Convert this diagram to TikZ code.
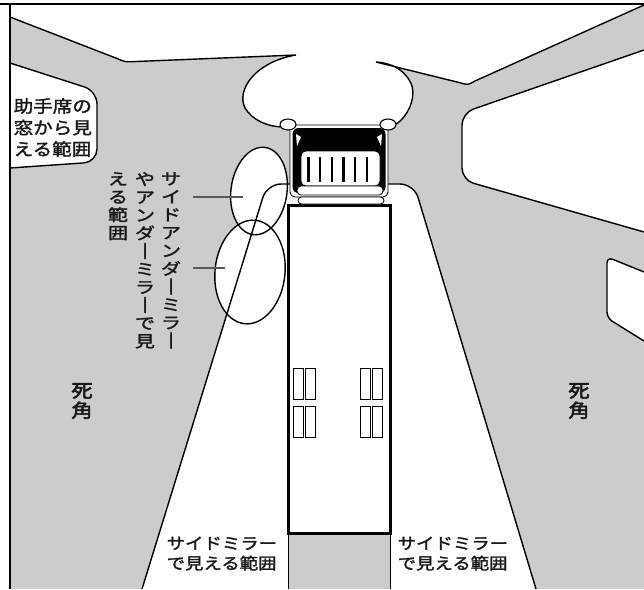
\documentclass[tikz,border=0pt]{standalone}
\usepackage{fontspec}
\usepackage{graphicx}
\newfontfamily\jp[FakeStretch=1.15,FakeBold=1.8]{Noto Sans CJK JP}
\newfontfamily\jptate[FakeStretch=1.25,FakeBold=1.8]{Noto Sans CJK JP}
\newfontfamily\jpbold[FakeStretch=1.15,FakeBold=3]{Noto Sans CJK JP}
\definecolor{deadgray}{RGB}{204,204,204}
% long vowel mark turned upright for vertical columns
\newcommand{\tatebo}{\smash{\rotatebox[origin=c]{-90}{\raisebox{0pt}[0.88em][0.12em]{ー}}}}

\begin{document}
\begin{tikzpicture}[x=1pt, y=-1pt,
    outline/.style={draw=black, line width=1.4pt},
    whitezone/.style={outline, fill=white},
    leader/.style={draw=black!65, line width=1.2pt},
    thinbox/.style={draw=black, line width=0.8pt, fill=white},
    sidetext/.style={inner sep=0pt, text=black!90, align=left, font=\jp\fontsize{16}{20}\selectfont},
    tate/.style={inner sep=0pt, text=black!90, align=center, anchor=north, font=\jptate\fontsize{16}{18}\selectfont},
    dead/.style={inner sep=0pt, text=black!90, align=center, font=\jpbold\fontsize{18.5}{20}\selectfont}]

\useasboundingbox (0,0) rectangle (644,589);

% gray ground (blind areas)
\fill[deadgray] (10,4) rectangle (644,589);

% open space ahead, with the bulge in front of the cab
\filldraw[whitezone] (10,4) -- (10,17) -- (117,58.5) .. controls (125,62) .. (134,61.6) -- (296,55)
  .. controls (255,62) and (236,90) .. (245,108)
  .. controls (252,120) and (268,127) .. (283,127) -- (393,126)
  .. controls (405,120) and (416,102) .. (412,86)
  .. controls (406,70) and (392,63) .. (376,62)
  -- (461,83) .. controls (468,85) .. (475,81) -- (644,5) -- (644,4);

% window views
\filldraw[whitezone, rounded corners=12] (644,50) -- (462,113) -- (462,180) -- (644,232);
\filldraw[whitezone, rounded corners=13] (10,63) -- (97,91) -- (97,162) -- (10,168);
\filldraw[whitezone, rounded corners=6] (644,272) -- (607,257) -- (607,318) -- (644,341);

% under-mirror ellipses
\coordinate (ellA) at (259,191);
\coordinate (ellB) at (250,272);
\fill[white, rotate around={-8:(ellA)}] (ellA) ellipse [x radius=28, y radius=44];
\fill[white, rotate around={-6:(ellB)}] (ellB) ellipse [x radius=35, y radius=52];

% side mirror cone
\filldraw[whitezone, rounded corners=14] (142,589) -- (267,184) -- (414,184) -- (536,589);

\draw[outline, rotate around={-8:(ellA)}] (ellA) ellipse [x radius=28, y radius=44];
\draw[outline, rotate around={-6:(ellB)}] (ellB) ellipse [x radius=35, y radius=52];

% strip behind the body
\filldraw[fill=deadgray, draw=black, line width=0.8pt] (288,589) -- (288,533) -- (390,533) -- (390,589);

% truck body
\filldraw[fill=white, draw=black, line width=3pt] (288,205) rectangle (390,533);
\foreach \x in {293,305.5,360,372.5}
  \foreach \y in {368,406}
    \draw[thinbox] (\x,\y) rectangle ++(10,31);

% cab
\filldraw[fill=white, draw=black, line width=0.9pt, rounded corners=5] (290,125) rectangle (388,197);
\fill[black, rounded corners=6] (292.5,128) rectangle (385.5,193);
\fill[white] (296,134) -- (301,137) -- (297,146) -- cycle;
\fill[white] (382,134) -- (377,137) -- (381,146) -- cycle;
\filldraw[thinbox, rounded corners=5] (301,151) rectangle (380,186);
\foreach \x in {308.3,320,331.7,343.3,355,366.7}
  \draw[line width=2.4pt] (\x,157) -- (\x,182);
\filldraw[thinbox, rounded corners=4] (297,186) rectangle (383,195);
\filldraw[thinbox, rounded corners=3.5] (298,197) rectangle (384,204);

% mirrors
\filldraw[thinbox, line width=1.1pt] (288,124.5) ellipse [x radius=8, y radius=5.5];
\filldraw[thinbox, line width=1.1pt] (388,124.5) ellipse [x radius=8, y radius=5.5];

% labels
\node[sidetext, anchor=north west, font=\jp\fontsize{17}{21.5}\selectfont] (winText) at (13.5,98) {助手席の\\窓から見\\える範囲};

\node[tate] (colA) at (171,172) {サ\\イ\\ド\\ア\\ン\\ダ\\\tatebo\\ミ\\ラ\\\tatebo};
\node[tate] (colB) at (145,172) {や\\ア\\ン\\ダ\\\tatebo\\ミ\\ラ\\\tatebo\\で\\見};
\node[tate] (colC) at (118,172) {え\\る\\範\\囲};

\coordinate (tagA) at (193,197);
\coordinate (tipA) at (243,197);
\coordinate (tagB) at (193,268);
\coordinate (tipB) at (225,268);
\draw[leader] (tagA) -- (tipA);
\draw[leader] (tagB) -- (tipB);

\node[dead] (blindL) at (82,401) {死\\角};
\node[dead] (blindR) at (579,401) {死\\角};

\node[sidetext, anchor=north west] (viewL) at (166.5,536.5) {サイドミラー\\で見える範囲};
\node[sidetext, anchor=north west] (viewR) at (397.5,536.5) {サイドミラー\\で見える範囲};

% frame
\draw[line width=2pt] (0,4) -- (644,4);
\draw[line width=1.4pt] (10,4) -- (10,589);

\end{tikzpicture}
\end{document}
